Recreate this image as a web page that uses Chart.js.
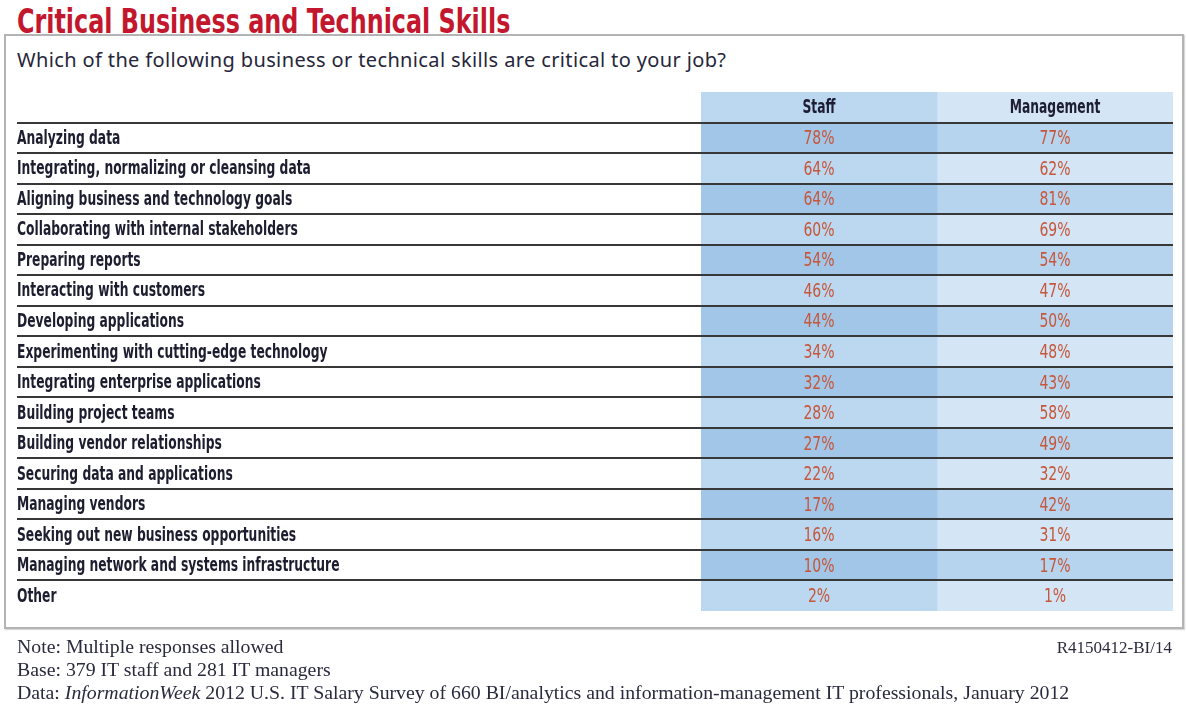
<!DOCTYPE html>
<html>
<head>
<meta charset="utf-8">
<script src="https://cdn.jsdelivr.net/npm/chart.js@4/dist/chart.umd.min.js"></script>
<style>
  html, body { margin: 0; padding: 0; background: #fff; }
  #page { position: relative; width: 1186px; height: 707px; overflow: hidden; }
  #title { position: absolute; left: 17px; top: 4px; font: bold 34px/34px "DejaVu Sans Condensed", "DejaVu Sans", sans-serif; color: #c3172e; white-space: nowrap; transform: scaleX(0.78); transform-origin: 0 0; }
  #frame { position: absolute; left: 4px; top: 34px; width: 1176px; height: 591px; border: 2px solid #b4b4b4; box-shadow: 1px 1px 1px #d8d8d8; }
  #subtitle { position: absolute; left: 17px; top: 50px; font: 20px/20px "Noto Sans", sans-serif; letter-spacing: 0.37px; color: #26263a; white-space: nowrap; }
  #chart { position: absolute; left: 0; top: 0; }
  .foot { position: absolute; left: 17px; font: 19.8px/20px "Liberation Serif", serif; color: #2a2a3e; white-space: nowrap; }
  #code { position: absolute; right: 14px; top: 639px; font: 17px/17px "Liberation Serif", serif; color: #2a2a3e; }
</style>
</head>
<body>
<div id="page">
  <div id="frame"></div>
  <div id="title">Critical Business and Technical Skills</div>
  <div id="subtitle">Which of the following business or technical skills are critical to your job?</div>
  <canvas id="chart" width="1186" height="707"></canvas>
  <div class="foot" style="top:636px">Note: Multiple responses allowed</div>
  <div class="foot" style="top:659px">Base: 379 IT staff and 281 IT managers</div>
  <div class="foot" style="top:682px">Data: <i>InformationWeek</i> 2012 U.S. IT Salary Survey of 660 BI/analytics and information-management IT professionals, January 2012</div>
  <div id="code">R4150412-BI/14</div>
</div>
<script>
// Survey rows and answers (percent of respondents)
const skills = [
  'Analyzing data',
  'Integrating, normalizing or cleansing data',
  'Aligning business and technology goals',
  'Collaborating with internal stakeholders',
  'Preparing reports',
  'Interacting with customers',
  'Developing applications',
  'Experimenting with cutting-edge technology',
  'Integrating enterprise applications',
  'Building project teams',
  'Building vendor relationships',
  'Securing data and applications',
  'Managing vendors',
  'Seeking out new business opportunities',
  'Managing network and systems infrastructure',
  'Other'
];
const columns = ['Staff', 'Management'];
const staff = [78, 64, 64, 60, 54, 46, 44, 34, 32, 28, 27, 22, 17, 16, 10, 2];
const management = [77, 62, 81, 69, 54, 47, 50, 48, 43, 58, 49, 32, 42, 31, 17, 1];

// First category is the column-header row
const rows = [''].concat(skills);
const columnValues = [staff, management];

const condensed = '"DejaVu Sans Condensed", "DejaVu Sans", sans-serif';
const shades = [
  { dark: '#a2c6e8', light: '#bcd8f0' },
  { dark: '#b7d4ef', light: '#d4e6f6' }
];

// Each column is a floating bar spanning one unit of the x scale
const datasets = columns.map((name, c) => ({
  label: name,
  data: rows.map(() => [c, c + 1]),
  backgroundColor: rows.map((_, i) => (i % 2 === 1 ? shades[c].dark : shades[c].light)),
  borderWidth: 0,
  grouped: false,
  barPercentage: 1,
  categoryPercentage: 1
}));

// draws narrow text by squeezing the context horizontally
function narrowText(ctx, text, x, y, squeeze, align) {
  ctx.save();
  ctx.translate(x, y);
  ctx.scale(squeeze, 1);
  ctx.textAlign = align;
  ctx.textBaseline = 'alphabetic';
  ctx.fillText(text, 0, 0);
  ctx.restore();
}

const tableText = {
  id: 'tableText',
  afterDatasetsDraw(chart) {
    const ctx = chart.ctx;
    const y = chart.scales.y;
    const area = chart.chartArea;

    // row rules between categories
    ctx.save();
    ctx.strokeStyle = '#383838';
    ctx.lineWidth = 2;
    for (let i = 1; i < rows.length; i++) {
      const py = Math.round((y.getPixelForValue(i - 1) + y.getPixelForValue(i)) / 2);
      ctx.beginPath();
      ctx.moveTo(17, py);
      ctx.lineTo(area.right, py);
      ctx.stroke();
    }
    ctx.restore();

    // row labels on the category axis
    ctx.save();
    ctx.font = 'bold 19px ' + condensed;
    ctx.fillStyle = '#1d1d30';
    rows.forEach((label, i) => {
      if (label) narrowText(ctx, label, 17, y.getPixelForValue(i) + 6, 0.72, 'left');
    });
    ctx.restore();

    // header and value cells
    ctx.save();
    chart.data.datasets.forEach((ds, c) => {
      const meta = chart.getDatasetMeta(c);
      meta.data.forEach((bar, i) => {
        const cx = (bar.x + bar.base) / 2;
        if (i === 0) {
          ctx.font = 'bold 19px ' + condensed;
          ctx.fillStyle = '#1d1d33';
          narrowText(ctx, columns[c], cx, bar.y + 6, 0.72, 'center');
        } else {
          ctx.font = '19px ' + condensed;
          ctx.fillStyle = '#c5573b';
          narrowText(ctx, columnValues[c][i - 1] + '%', cx, bar.y + 6.5, 0.82, 'center');
        }
      });
    });
    ctx.restore();
  }
};

new Chart(document.getElementById('chart'), {
  type: 'bar',
  data: { labels: rows, datasets },
  options: {
    indexAxis: 'y',
    responsive: false,
    devicePixelRatio: 1,
    animation: false,
    layout: { padding: { left: 17, right: 13, top: 92, bottom: 96 } },
    plugins: { legend: { display: false }, tooltip: { enabled: false }, title: { display: false } },
    scales: {
      x: { type: 'linear', min: 0, max: 2, display: false },
      y: {
        type: 'category',
        offset: true,
        grid: { display: false },
        border: { display: false },
        ticks: { display: false },
        afterFit(scale) { scale.width = 684; }
      }
    }
  },
  plugins: [tableText]
});
</script>
</body>
</html>
